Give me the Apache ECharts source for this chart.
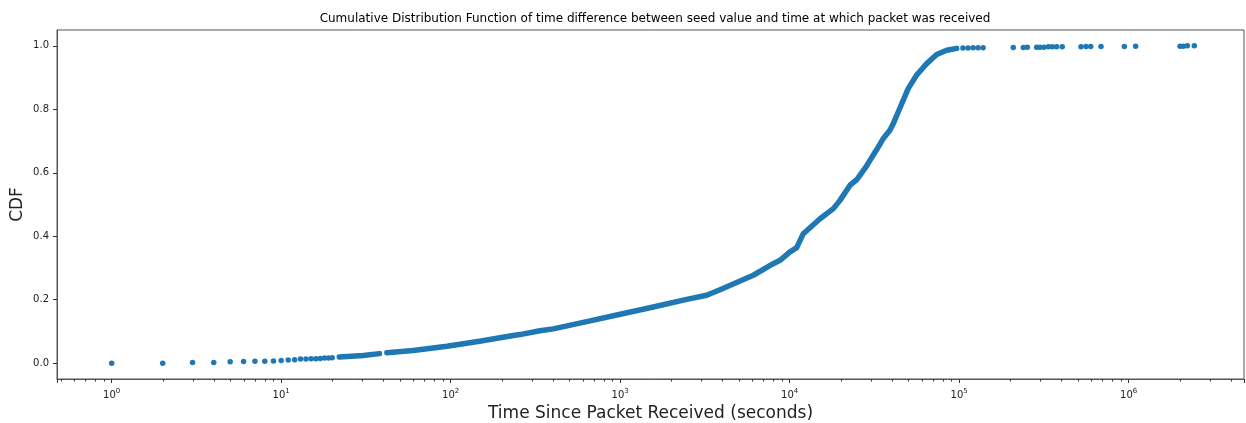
<!DOCTYPE html>
<html><head><meta charset="utf-8">
<script src="https://cdn.jsdelivr.net/npm/echarts@6/dist/echarts.min.js"></script>
<style>html,body{margin:0;padding:0;background:#fff}#c{width:1246px;height:423px}</style>
</head><body><div id="c"></div>
<script>
// Low discrete observations (seconds, CDF)
const sparseTimes = [1, 2, 3, 4, 5, 6, 7, 8, 9, 10, 11, 12, 13, 14, 15, 16, 17, 18, 19, 20];
const sparseCdf   = [0.000, 0.000, 0.002, 0.002, 0.004, 0.005, 0.006, 0.006, 0.007, 0.008, 0.010, 0.011, 0.013, 0.013, 0.014, 0.014, 0.015, 0.016, 0.016, 0.017];
// Dense part of the curve (read along the band)
const curveTimesA = [22, 30.5, 38];
const curveCdfA   = [0.019, 0.024, 0.030];
const curveTimesB = [42, 60, 95, 148, 234, 256, 336, 403, 634, 1000, 1567, 2466, 3237, 3880, 6100, 8000, 8770, 10000, 11000, 12030, 15100, 18100, 19800, 22700, 24840, 26200, 28450, 29800, 34100, 35650, 39100, 40850, 44760, 50100, 56150, 64300, 73650, 84400, 96600];
const curveCdfB   = [0.033, 0.040, 0.053, 0.069, 0.087, 0.090, 0.102, 0.108, 0.131, 0.154, 0.177, 0.201, 0.214, 0.2315, 0.277, 0.3135, 0.324, 0.350, 0.364, 0.408, 0.455, 0.487, 0.513, 0.561, 0.578, 0.595, 0.622, 0.640, 0.690, 0.708, 0.735, 0.755, 0.805, 0.866, 0.908, 0.944, 0.973, 0.986, 0.992];
// Upper tail observations
const tailTimes = [105200, 112700, 120800, 129200, 138400, 208500, 238900, 252400, 286500, 299700, 316500, 335700, 354300, 375900, 405600, 523200, 560100, 597000, 686700, 942600, 1099000, 2008000, 2100000, 2218000, 2438000];
const tailCdf   = [0.993, 0.993, 0.994, 0.994, 0.994, 0.995, 0.995, 0.996, 0.996, 0.996, 0.996, 0.997, 0.997, 0.997, 0.997, 0.997, 0.998, 0.998, 0.998, 0.998, 0.999, 0.999, 0.999, 1.000, 1.000];
// Axes
const yTicks = [0, 0.2, 0.4, 0.6, 0.8, 1.0];
const yTickLabels = ['0.0', '0.2', '0.4', '0.6', '0.8', '1.0'];
const X_MIN = 0.4757, X_MAX = 4.79e6, Y_MIN = -0.05, Y_MAX = 1.05;

const zip = (a, b) => a.map((v, i) => [v, b[i]]);
const minorVals = [];
for (let k = -1; k <= 6; k++) {
  for (let m = 2; m <= 9; m++) {
    const v = m * Math.pow(10, k);
    if (v > X_MIN && v < X_MAX) minorVals.push([v, Y_MIN]);
  }
}
const BLUE = '#1f77b4';
const FRAME = '#555';
const FONT = 'DejaVu Sans';

const chart = echarts.init(document.getElementById('c'), null, {renderer: 'canvas'});
chart.setOption({
  animation: false,
  backgroundColor: '#fff',
  title: {
    text: 'Cumulative Distribution Function of time difference between seed value and time at which packet was received',
    left: 650, textAlign: 'center', top: 8,
    textStyle: {fontFamily: FONT, fontSize: 12, fontWeight: 'normal', color: '#000'}
  },
  grid: {left: 57, right: 2, top: 30, bottom: 44, show: true, borderColor: FRAME, borderWidth: 1,
         containLabel: false, outerBoundsMode: 'none'},
  xAxis: {
    type: 'log', logBase: 10, min: X_MIN, max: X_MAX, splitNumber: 7,
    name: 'Time Since Packet Received (seconds)', nameLocation: 'middle', nameGap: 26, nameMoveOverlap: false,
    nameTextStyle: {fontFamily: FONT, fontSize: 17, color: '#222'},
    axisLine: {show: true, onZero: false, lineStyle: {color: FRAME, width: 1}},
    axisTick: {show: true, inside: false, length: 4, lineStyle: {color: '#333', width: 1}},
    splitLine: {show: false},
    axisLabel: {
      margin: 9, color: '#222', fontFamily: FONT, fontSize: 10,
      formatter: function (v) {
        const e = Math.log10(v);
        const r = Math.round(e);
        if (Math.abs(e - r) > 1e-6) return '';
        return '{b|10}{s|' + r + '}';
      },
      rich: {
        b: {fontFamily: FONT, fontSize: 10, color: '#222', lineHeight: 14},
        s: {fontFamily: FONT, fontSize: 7, color: '#222', verticalAlign: 'top', lineHeight: 9}
      }
    }
  },
  yAxis: {
    type: 'value', min: Y_MIN, max: Y_MAX,
    name: 'CDF', nameLocation: 'middle', nameGap: 31, nameRotate: 90, nameMoveOverlap: false,
    nameTextStyle: {fontFamily: FONT, fontSize: 17, color: '#222'},
    axisLine: {show: true, onZero: false, lineStyle: {color: FRAME, width: 1}},
    axisTick: {show: true, inside: false, length: 4, customValues: yTicks, lineStyle: {color: '#333', width: 1}},
    splitLine: {show: false},
    axisLabel: {
      customValues: yTicks, margin: 8, color: '#222', fontFamily: FONT, fontSize: 10,
      formatter: function (v) {
        let best = 0;
        yTicks.forEach((t, i) => { if (Math.abs(t - v) < Math.abs(yTicks[best] - v)) best = i; });
        return yTickLabels[best];
      }
    }
  },
  series: [
    {type: 'line', data: zip(curveTimesA, curveCdfA), showSymbol: false, symbol: 'none',
     lineStyle: {color: BLUE, width: 5.5, cap: 'round', join: 'round'}, silent: true},
    {type: 'line', data: zip(curveTimesB, curveCdfB), showSymbol: false, symbol: 'none',
     lineStyle: {color: BLUE, width: 5.5, cap: 'round', join: 'round'}, silent: true},
    {type: 'scatter', data: zip(sparseTimes, sparseCdf), symbolSize: 5.5, itemStyle: {color: BLUE, opacity: 1}, silent: true},
    {type: 'scatter', data: zip(tailTimes, tailCdf), symbolSize: 5.5, itemStyle: {color: BLUE, opacity: 1}, silent: true},
    {type: 'custom', data: minorVals, clip: false, silent: true,
     renderItem: function (params, api) {
       const p = api.coord([api.value(0), api.value(1)]);
       const x = Math.round(p[0]) + 0.5;
       return {type: 'line', shape: {x1: x, y1: p[1], x2: x, y2: p[1] + 2.5}, style: {stroke: '#333', lineWidth: 1}};
     }}
  ]
});
</script>
</body></html>
